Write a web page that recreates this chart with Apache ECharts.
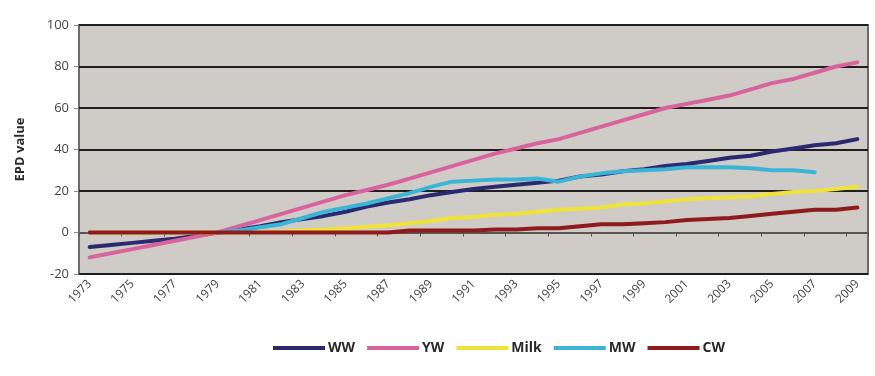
<!DOCTYPE html>
<html>
<head>
<meta charset="utf-8">
<script src="https://cdn.jsdelivr.net/npm/echarts@6/dist/echarts.min.js"></script>
<style>
  html, body { margin: 0; padding: 0; background: #fff; }
  #main { width: 875px; height: 376px; }
</style>
</head>
<body>
<div id="main"></div>
<script>
var years = [];
for (var y = 1973; y <= 2009; y++) years.push(String(y));

// EPD values, one per year 1973..2009
var ww = [-7, -6, -5, -4, -3, -1.5, 0, 1.5, 3, 5, 6.5, 8, 10, 12.5, 14.5, 16, 18, 19.5, 21, 22, 23, 24, 25, 27, 28, 29.5, 30.5, 32, 33, 34.5, 36, 37, 39, 40.5, 42, 43, 45];
var yw = [-12, -10, -8, -6, -4, -2, 0, 3, 6, 9, 12, 15, 18, 20.5, 23, 26, 29, 32, 35, 38, 40.5, 43, 45, 48, 51, 54, 57, 60, 62, 64, 66, 69, 72, 74, 77, 80, 82];
var milk = [0, 0, 0, 0, 0, 0, 0, 0, 0.3, 0.5, 1, 1.5, 2, 2.8, 3.5, 4.5, 5.5, 7, 7.5, 8.5, 9, 10, 11, 11.5, 12, 13.5, 14, 15, 16, 16.5, 17, 17.5, 18.5, 19.5, 20, 21, 22];
var mw = [null, null, null, null, null, null, 0, 1, 2.5, 4, 7, 10, 12, 14, 16.5, 19, 22, 24.5, 25, 25.5, 25.5, 26, 24.5, 27, 28.5, 29.5, 30, 30.5, 31.5, 31.5, 31.5, 31, 30, 30, 29, null, null];
var cw = [0, 0, 0, 0, 0, 0, 0, 0, 0, 0, 0, 0, 0, 0, 0, 1, 1, 1, 1, 1.5, 1.5, 2, 2, 3, 4, 4, 4.5, 5, 6, 6.5, 7, 8, 9, 10, 11, 11, 12];

var names = ['WW', 'YW', 'Milk', 'MW', 'CW'];
var colors = ['#2b2a70', '#d9649b', '#efe33a', '#3bb5d6', '#8e1c1c'];
var values = [ww, yw, milk, mw, cw];

var chart = echarts.init(document.getElementById('main'));

var series = names.map(function (n, i) {
  return {
    name: n,
    type: 'line',
    data: values[i],
    showSymbol: false,
    symbol: 'none',
    connectNulls: false,
    lineStyle: { color: colors[i], width: 4, cap: 'round', join: 'round' },
    itemStyle: { color: colors[i] }
  };
});

chart.setOption({
  animation: false,
  backgroundColor: '#ffffff',
  textStyle: { fontFamily: 'Open Sans' },
  grid: {
    left: 79, right: 7, top: 25, bottom: 102,
    show: true,
    backgroundColor: '#cfcbc7',
    borderColor: '#6e6a66',
    borderWidth: 2
  },
  legend: {
    bottom: 16,
    left: 268,
    itemWidth: 52,
    itemHeight: 4,
    itemGap: 12,
    icon: 'rect',
    textStyle: { color: '#2a2a2a', fontWeight: 'bold', fontSize: 14, padding: [0, 0, 0, -2] },
    data: names
  },
  xAxis: [{
    type: 'category',
    data: years,
    boundaryGap: true,
    axisLine: { show: false, onZero: false },
    axisTick: { show: false },
    axisLabel: { interval: 1, rotate: 45, color: '#444', fontSize: 12, margin: 8 }
  }, {
    type: 'category',
    data: years,
    boundaryGap: true,
    position: 'bottom',
    axisLine: { show: true, onZero: true, lineStyle: { color: '#5a5550', width: 2 } },
    axisTick: { show: true, length: 4, inside: false, lineStyle: { color: '#5a5550' } },
    axisLabel: { show: false }
  }],
  yAxis: {
    type: 'value',
    min: -20,
    max: 100,
    interval: 20,
    name: 'EPD value',
    nameLocation: 'middle',
    nameGap: 52,
    nameTextStyle: { color: '#2a2a2a', fontWeight: 'bold', fontSize: 13 },
    axisLine: { show: false },
    axisTick: { show: true, length: 5, lineStyle: { color: '#888' } },
    axisLabel: { color: '#444', fontSize: 13, margin: 10 },
    splitLine: { lineStyle: { color: '#1e1e1e', width: 2 } }
  },
  series: series
});
</script>
</body>
</html>
